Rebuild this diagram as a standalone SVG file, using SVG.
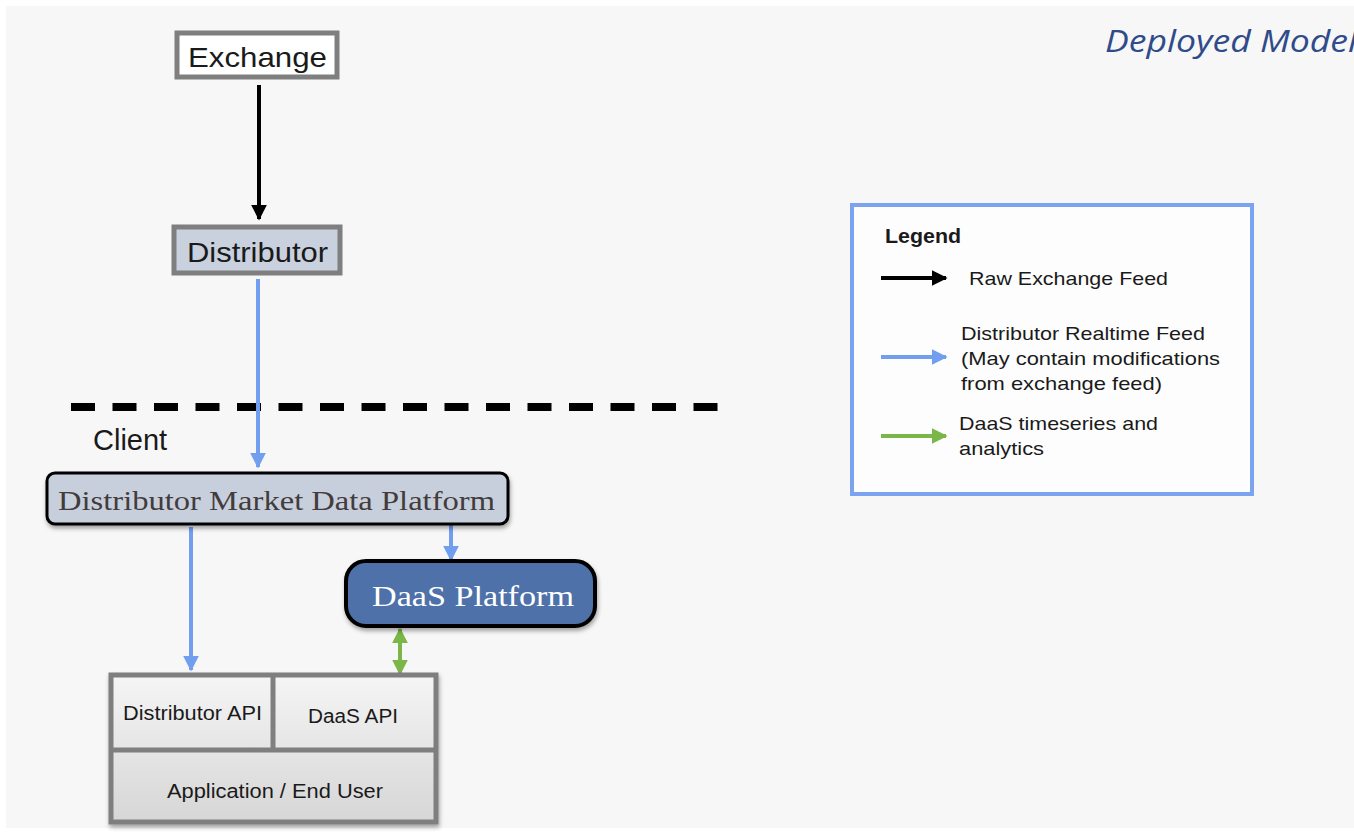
<svg xmlns="http://www.w3.org/2000/svg" width="1354" height="832" viewBox="0 0 1354 832">
<defs>
<style>
.sans{font-family:"Liberation Sans",Arial,sans-serif;fill:#1a1a1a}
.serif{font-family:"Liberation Serif","DejaVu Serif",serif}
.blue{stroke:#729ef0;stroke-width:4;fill:none}
.green{stroke:#7ab648;stroke-width:4;fill:none}
.black{stroke:#000;stroke-width:4;fill:none}
</style>
<marker id="ab" viewBox="0 0 10 10" refX="9" refY="5" markerWidth="4" markerHeight="4" orient="auto" markerUnits="strokeWidth"><path d="M0,0 L10,5 L0,10 z" fill="#000"/></marker>
<marker id="au" viewBox="0 0 10 10" refX="9" refY="5" markerWidth="4" markerHeight="4" orient="auto" markerUnits="strokeWidth"><path d="M0,0 L10,5 L0,10 z" fill="#729ef0"/></marker>
<marker id="ag" viewBox="0 0 10 10" refX="9" refY="5" markerWidth="4" markerHeight="4" orient="auto-start-reverse" markerUnits="strokeWidth"><path d="M0,0 L10,5 L0,10 z" fill="#7ab648"/></marker>
<linearGradient id="gg" x1="0" y1="0" x2="0" y2="1"><stop offset="0" stop-color="#f5f5f5"/><stop offset="1" stop-color="#d6d6d6"/></linearGradient>
<filter id="sh" x="-10%" y="-20%" width="120%" height="150%"><feDropShadow dx="1" dy="3" stdDeviation="2" flood-color="#000" flood-opacity="0.35"/></filter>
</defs>
<rect x="0" y="0" width="1354" height="832" fill="#ffffff"/>
<rect x="6" y="6" width="1348" height="822" fill="#f7f7f7"/>

<text x="1105" y="52" font-family="'Open Sans','DejaVu Sans',sans-serif" font-style="italic" font-size="31" fill="#2f4b8a" textLength="252" lengthAdjust="spacingAndGlyphs">Deployed Model</text>

<line x1="71" y1="407" x2="718" y2="407" stroke="#000" stroke-width="8" stroke-dasharray="24,17.5"/>
<text class="sans" x="93" y="450" font-size="29" fill="#222">Client</text>

<g id="connectors">
<line class="black" x1="259" y1="85" x2="259" y2="219" marker-end="url(#ab)"/>
<line class="blue" x1="258" y1="279" x2="258" y2="467" marker-end="url(#au)"/>
<line class="blue" x1="191" y1="527" x2="191" y2="670" marker-end="url(#au)"/>
<line class="blue" x1="451" y1="525" x2="451" y2="560" marker-end="url(#au)"/>
<line class="green" x1="400" y1="629" x2="400" y2="674" marker-start="url(#ag)" marker-end="url(#ag)"/>
</g>

<g id="exchange">
<rect x="177" y="33" width="160" height="44" fill="#ffffff" stroke="#7f7f7f" stroke-width="5"/>
<text class="sans" x="188" y="67" font-size="28" textLength="139" lengthAdjust="spacingAndGlyphs">Exchange</text>
</g>

<g id="distributor">
<rect x="174" y="227" width="166" height="46" fill="#c9d0de" stroke="#7f7f7f" stroke-width="5"/>
<text class="sans" x="187" y="262" font-size="28" textLength="141" lengthAdjust="spacingAndGlyphs">Distributor</text>
</g>

<g id="dmdp">
<rect x="47" y="473" width="461" height="51" rx="8" fill="#c8cfdc" stroke="#000" stroke-width="3" filter="url(#sh)"/>
<text class="serif" x="58" y="510" font-size="28" fill="#433c3c" textLength="437" lengthAdjust="spacingAndGlyphs">Distributor Market Data Platform</text>
</g>

<g id="daas">
<rect x="346" y="561" width="249" height="65" rx="20" fill="#4d71a8" stroke="#000" stroke-width="4" filter="url(#sh)"/>
<text class="serif" x="372" y="606" font-size="29" fill="#ffffff" textLength="202" lengthAdjust="spacingAndGlyphs">DaaS Platform</text>
</g>

<g id="apibox">
<rect x="111" y="675" width="325" height="147" fill="url(#gg)" stroke="#7f7f7f" stroke-width="5" filter="url(#sh)"/>
<line x1="111" y1="750" x2="436" y2="750" stroke="#7f7f7f" stroke-width="5"/>
<line x1="273" y1="675" x2="273" y2="750" stroke="#7f7f7f" stroke-width="5"/>
<g id="distributor-api"><text class="sans" x="123" y="720" font-size="20" textLength="139" lengthAdjust="spacingAndGlyphs">Distributor API</text></g>
<g id="daas-api"><text class="sans" x="308" y="723" font-size="20" textLength="90" lengthAdjust="spacingAndGlyphs">DaaS API</text></g>
<g id="app"><text class="sans" x="167" y="798" font-size="20" textLength="216" lengthAdjust="spacingAndGlyphs">Application / End User</text></g>
</g>

<g id="legend">
<rect x="852" y="205" width="400" height="289" fill="#fdfdfd" stroke="#7ba3f0" stroke-width="4"/>
<text class="sans" x="885" y="243" font-size="20" font-weight="bold" fill="#000" textLength="76" lengthAdjust="spacingAndGlyphs">Legend</text>
<line class="black" x1="881" y1="278" x2="946" y2="278" marker-end="url(#ab)"/>
<text class="sans" x="969" y="285" font-size="19" textLength="199" lengthAdjust="spacingAndGlyphs">Raw Exchange Feed</text>
<line class="blue" x1="881" y1="357" x2="946" y2="357" marker-end="url(#au)"/>
<text class="sans" x="961" y="340" font-size="19" textLength="244" lengthAdjust="spacingAndGlyphs">Distributor Realtime Feed</text>
<text class="sans" x="961" y="365" font-size="19" textLength="259" lengthAdjust="spacingAndGlyphs">(May contain modifications</text>
<text class="sans" x="961" y="390" font-size="19" textLength="201" lengthAdjust="spacingAndGlyphs">from exchange feed)</text>
<line class="green" x1="881" y1="436" x2="946" y2="436" marker-end="url(#ag)"/>
<text class="sans" x="959" y="430" font-size="19" textLength="199" lengthAdjust="spacingAndGlyphs">DaaS timeseries and</text>
<text class="sans" x="959" y="455" font-size="19" textLength="85" lengthAdjust="spacingAndGlyphs">analytics</text>
</g>
</svg>
